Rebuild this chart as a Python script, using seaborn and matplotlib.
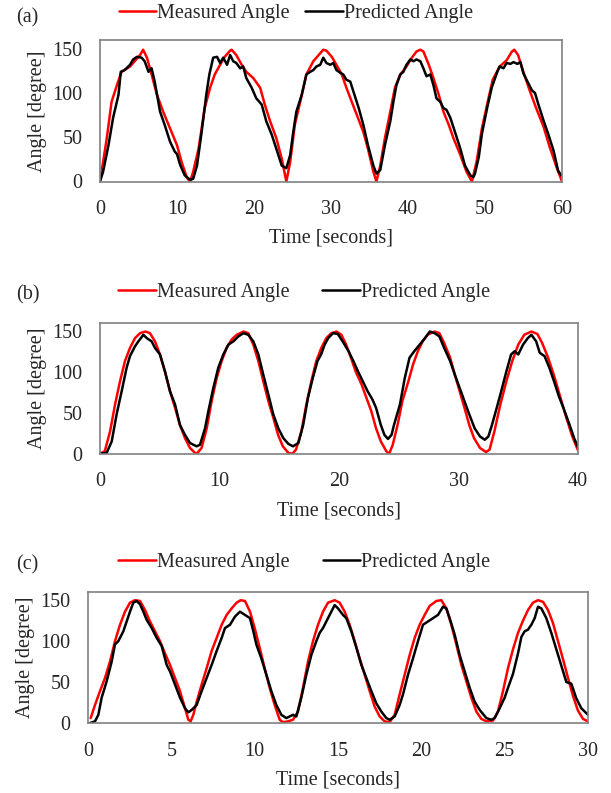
import matplotlib
matplotlib.use("Agg")
import matplotlib.pyplot as plt
import seaborn as sns

sns.set_style("white")
plt.rcParams['font.family'] = ['Liberation Serif', 'DejaVu Serif']
plt.rcParams['font.size'] = 14.5

# === (a) 60 s trial ===
a_meas_t = [0, 0.4, 0.9, 1.5, 2.2, 2.8, 3.9, 4.5, 5.2, 5.6, 6.1, 6.7, 7.4, 8.2, 9.1, 10.0, 10.6, 11.3, 11.7,
            12.1, 12.8, 13.2, 13.6, 14.3, 14.9, 15.6, 16.2, 16.9, 17.1, 17.7, 18.4, 19.0, 19.9, 20.8, 21.4, 22.1,
            22.9, 23.6, 24.2, 24.7, 25.3, 26.0, 26.8, 27.7, 28.4, 29.0, 29.4, 30.1, 30.7, 31.4, 32.0, 32.7, 33.5,
            34.2, 34.8, 35.5, 35.9, 36.4, 37.0, 37.7, 38.3, 39.0, 39.8, 40.5, 41.1, 41.6, 42.0, 42.7, 43.3, 44.0,
            44.6, 45.3, 45.9, 46.8, 47.6, 48.3, 48.9, 49.6, 50.4, 51.0, 51.9, 52.8, 53.5, 53.8, 54.3, 54.9, 55.8,
            56.6, 57.6, 58.4, 59.3, 60.0]
a_meas = [0, 22, 50, 90, 109, 124, 130, 136, 143, 149, 140, 121, 98, 79, 60, 41, 22, 4, 0,
          11, 37, 60, 83, 106, 121, 132, 141, 148, 149, 143, 132, 124, 117, 106, 87, 68,
          49, 26, 0, 22, 64, 90, 121, 136, 143, 149, 148, 141, 132, 121, 106, 90, 72,
          56, 37, 11, 0, 18, 49, 79, 106, 121, 130, 140, 147, 149, 147, 132, 117, 98,
          79, 64, 49, 30, 11, 0, 22, 60, 92, 115, 130, 137, 147, 149, 143, 126, 103,
          84, 62, 39, 16, 0]
a_pred_t = [0, 0.4, 1.1, 1.7, 2.4, 2.7, 3.2, 3.9, 4.3, 4.8, 5.4, 5.8, 6.3, 6.7, 7.1, 7.8, 8.4, 9.1, 9.7, 10.0,
            10.4, 11.0, 11.7, 12.1, 12.6, 13.2, 13.8, 14.2, 14.7, 15.2, 15.6, 16.0, 16.5, 16.9, 17.3, 17.7, 18.2,
            18.6, 19.0, 19.7, 20.3, 21.0, 21.6, 22.3, 22.9, 23.6, 24.2, 24.7, 25.1, 25.5, 26.2, 26.8, 27.3, 27.7,
            28.1, 28.6, 29.0, 29.4, 29.9, 30.3, 30.7, 31.2, 31.6, 32.0, 32.5, 32.9, 33.6, 34.2, 34.8, 35.5, 35.9,
            36.4, 37.0, 37.7, 38.1, 38.5, 39.0, 39.4, 39.8, 40.3, 40.7, 41.1, 41.6, 42.0, 42.4, 42.9, 43.3, 43.7,
            44.2, 44.6, 45.0, 45.5, 46.1, 46.8, 47.4, 48.1, 48.5, 48.7, 49.2, 49.6, 50.3, 50.9, 51.6, 51.9, 52.4,
            52.8, 53.3, 53.7, 54.2, 54.6, 55.0, 55.4, 56.1, 56.5, 56.9, 57.6, 58.2, 58.9, 59.5, 60.0]
a_pred = [0, 11, 41, 72, 98, 124, 126, 132, 138, 141, 140, 136, 124, 128, 113, 79, 64, 45, 34, 31,
          19, 7, 2, 3, 18, 56, 98, 121, 140, 141, 134, 140, 132, 143, 136, 134, 128,
          130, 117, 106, 94, 87, 68, 53, 37, 18, 15, 30, 56, 79, 98, 121, 124, 126,
          130, 132, 140, 134, 132, 134, 126, 123, 121, 115, 113, 102, 83, 64, 41, 18, 9,
          13, 41, 68, 90, 109, 121, 124, 132, 138, 136, 138, 136, 128, 119, 121, 109, 94,
          90, 83, 81, 72, 56, 37, 18, 7, 5, 9, 28, 54, 84, 107, 124, 130, 128,
          134, 133, 135, 133, 135, 122, 115, 103, 100, 88, 69, 54, 35, 12, 6]

# === (b) 40 s trial ===
b_meas_t = [0, 0.4, 0.84, 1.26, 1.67, 2.09, 2.51, 2.93, 3.35, 3.8, 4.18, 4.6, 5.02, 5.44, 5.86, 6.28, 6.69,
            7.11, 7.53, 7.95, 8.1, 8.5, 8.93, 9.34, 9.76, 10.18, 10.6, 11.0, 11.44, 12.0, 12.41, 12.83, 13.25,
            13.67, 14.09, 14.5, 14.9, 15.3, 15.76, 16.1, 16.4, 16.85, 17.27, 17.68, 18.1, 18.52, 18.94, 19.36,
            19.8, 20.2, 20.6, 21.0, 21.4, 21.9, 22.3, 22.7, 23.1, 23.5, 23.96, 24.2, 24.5, 24.9, 25.3, 25.8,
            26.2, 26.6, 27.0, 27.4, 28.0, 28.4, 28.8, 29.3, 29.7, 30.1, 30.5, 30.9, 31.3, 31.8, 32.3, 32.6,
            33.0, 33.5, 34.0, 34.5, 35.0, 35.5, 36.1, 36.6, 37.0, 37.5, 38.0, 38.5, 39.0, 39.5, 40.0]
b_meas = [0, 3, 27, 60, 88, 113, 129, 141, 147, 149, 147, 137, 121, 100, 76, 56, 35,
          19, 7, 1, 0, 7, 31, 64, 92, 113, 129, 139, 145, 149, 147, 133, 113,
          88, 64, 44, 23, 9, 1, 0, 5, 27, 60, 88, 113, 129, 141, 147,
          149, 145, 133, 117, 100, 84, 68, 52, 31, 15, 3, 0, 11, 35, 64, 88,
          109, 125, 137, 145, 149, 147, 135, 117, 96, 76, 56, 35, 19, 7, 2, 5,
          27, 60, 88, 113, 133, 145, 149, 146, 135, 117, 95, 70, 45, 22, 4]
b_pred_t = [0, 0.56, 0.98, 1.39, 1.81, 2.23, 2.51, 2.65, 2.93, 3.21, 3.63, 3.91, 4.32, 4.6, 5.02, 5.44, 5.86,
            6.28, 6.69, 7.11, 7.53, 8.09, 8.37, 8.79, 9.07, 9.48, 9.9, 10.32, 10.74, 11.16, 11.58, 12.0, 12.41,
            12.83, 13.25, 13.67, 14.09, 14.5, 14.92, 15.34, 15.76, 16.15, 16.6, 17.0, 17.4, 17.8, 18.2, 18.5,
            18.8, 19.1, 19.5, 19.9, 20.3, 20.8, 21.2, 21.6, 22.0, 22.4, 22.8, 23.1, 23.5, 23.8, 24.1, 24.4,
            24.6, 25.1, 25.5, 25.9, 26.3, 26.75, 27.2, 27.6, 28.0, 28.4, 28.8, 29.3, 29.7, 30.1, 30.5, 30.9,
            31.35, 31.8, 32.2, 32.5, 32.8, 33.2, 33.5, 34.0, 34.4, 34.7, 35.0, 35.4, 35.8, 36.1, 36.5, 36.8,
            37.2, 37.6, 38.0, 38.4, 38.8, 39.3, 39.7, 40.0]
b_pred = [0, 1, 15, 48, 76, 105, 119, 123, 131, 137, 145, 141, 137, 129, 121, 100, 76,
          60, 35, 23, 13, 9, 11, 31, 52, 80, 105, 121, 133, 137, 143, 147, 145,
          137, 121, 96, 72, 48, 31, 19, 12, 9, 13, 35, 68, 92, 113, 121,
          133, 141, 147, 146, 137, 125, 113, 100, 88, 76, 66, 56, 35, 23, 18, 23,
          35, 60, 92, 117, 125, 133, 141, 149, 147, 143, 129, 113, 96, 80, 64, 48,
          31, 21, 17, 21, 35, 56, 72, 100, 121, 125, 121, 133, 141, 145, 137, 123,
          119, 105, 88, 70, 55, 35, 18, 8]

# === (c) 30 s trial ===
c_meas_t = [0.16, 0.42, 0.72, 1.02, 1.32, 1.62, 1.92, 2.22, 2.52, 2.82, 3.12, 3.42, 3.72, 4.02, 4.32, 4.62,
            4.92, 5.22, 5.52, 5.82, 6.02, 6.16, 6.32, 6.52, 6.82, 7.12, 7.42, 7.72, 8.02, 8.32, 8.62, 8.92,
            9.16, 9.42, 9.72, 10.0, 10.3, 10.6, 10.9, 11.2, 11.5, 11.7, 12.0, 12.3, 12.6, 12.9, 13.2, 13.5,
            13.8, 14.1, 14.4, 14.8, 15.1, 15.4, 15.7, 16.0, 16.3, 16.6, 16.9, 17.2, 17.5, 17.8, 18.1, 18.4,
            18.7, 19.0, 19.3, 19.6, 19.9, 20.2, 20.5, 20.9, 21.2, 21.5, 21.8, 22.1, 22.4, 22.7, 23.0, 23.3,
            23.6, 23.9, 24.3, 24.6, 24.9, 25.2, 25.5, 25.8, 26.1, 26.4, 26.7, 27.0, 27.3, 27.6, 27.9, 28.2,
            28.5, 28.8, 29.1, 29.4, 29.7, 30.0]
c_meas = [6, 22, 39, 55, 75, 100, 120, 136, 147, 150, 149, 138, 124, 112, 100, 85,
          71, 55, 39, 18, 4, 2, 10, 26, 47, 67, 88, 104, 120, 132, 140, 147,
          150, 149, 136, 116, 92, 67, 43, 22, 4, 1, 2, 4, 14, 43, 75, 100,
          120, 136, 147, 150, 147, 136, 120, 100, 79, 59, 39, 20, 8, 2, 1, 10,
          35, 59, 83, 104, 120, 132, 143, 149, 150, 140, 120, 96, 71, 51, 31, 14,
          5, 2, 3, 14, 39, 67, 90, 110, 125, 138, 147, 150, 148, 138, 122, 100,
          78, 55, 33, 15, 5, 2]
c_pred_t = [0.12, 0.42, 0.62, 0.82, 1.12, 1.42, 1.62, 1.82, 2.12, 2.32, 2.52, 2.72, 2.92, 3.12, 3.32, 3.52,
            3.82, 4.12, 4.42, 4.72, 4.92, 5.22, 5.52, 5.82, 6.02, 6.22, 6.52, 6.82, 7.12, 7.42, 7.72, 8.02,
            8.22, 8.52, 8.82, 9.12, 9.42, 9.72, 9.92, 10.1, 10.4, 10.7, 11.0, 11.3, 11.6, 11.9, 12.1, 12.3,
            12.5, 12.8, 13.1, 13.4, 13.7, 13.9, 14.1, 14.4, 14.6, 14.8, 15.0, 15.3, 15.5, 15.8, 16.1, 16.4,
            16.7, 17.0, 17.3, 17.6, 17.9, 18.1, 18.4, 18.7, 18.9, 19.2, 19.5, 19.8, 20.1, 20.4, 20.7, 21.0,
            21.3, 21.5, 21.7, 22.0, 22.3, 22.6, 22.9, 23.2, 23.5, 23.9, 24.2, 24.4, 24.7, 25.0, 25.2, 25.5,
            25.8, 26.0, 26.2, 26.4, 26.6, 26.8, 27.0, 27.2, 27.5, 27.8, 28.1, 28.4, 28.7, 28.85, 29.0, 29.3,
            29.6, 30.0]
c_pred = [0, 2, 10, 31, 51, 75, 96, 100, 112, 124, 136, 147, 149, 145, 136, 126,
          116, 104, 94, 71, 63, 47, 31, 18, 13, 16, 22, 39, 55, 71, 88, 104,
          116, 120, 130, 136, 132, 128, 112, 96, 79, 59, 39, 22, 10, 6, 8, 10,
          8, 31, 59, 83, 100, 110, 116, 128, 136, 144, 140, 132, 128, 112, 92, 71,
          55, 39, 24, 14, 6, 4, 8, 22, 35, 59, 79, 100, 120, 124, 128, 132,
          142, 140, 128, 108, 83, 63, 43, 26, 16, 6, 4, 6, 18, 31, 43, 60,
          85, 105, 112, 114, 120, 128, 142, 140, 128, 110, 90, 70, 50, 49, 48, 30,
          18, 10]

a_xticks = [0, 10, 20, 30, 40, 50, 60]
b_xticks = [0, 10, 20, 30, 40]
c_xticks = [0, 5, 10, 15, 20, 25, 30]
y_ticks = [0, 50, 100, 150]

W, H = 611, 793
# label, data, xmax, xticks, box (left, top, right, bottom px), legend anchor px, label y, column spacing
panels = [
    ("(a)", a_meas_t, a_meas, a_pred_t, a_pred, 60, a_xticks, (100, 40, 562, 181.5), (118.7, 13.3), 17.7, 0.76),
    ("(b)", b_meas_t, b_meas, b_pred_t, b_pred, 40, b_xticks, (100, 322.5, 578, 453.7), (118, 292.7), 295, 1.64),
    ("(c)", c_meas_t, c_meas, c_pred_t, c_pred, 30, c_xticks, (88, 592, 588, 723), (118.3, 562.7), 565, 1.64),
]

fig = plt.figure(figsize=(W / 100, H / 100), dpi=100)

for lab, mt, m, pt, p, xmax, xt, box, leg, laby, cs in panels:
    l, t, r, b = box
    ax = fig.add_axes([l / W, 1 - b / H, (r - l) / W, (b - t) / H])
    sns.lineplot(x=mt, y=m, ax=ax, color="#ff0000", lw=1.8, label="Measured Angle",
                 estimator=None, sort=False)
    sns.lineplot(x=pt, y=p, ax=ax, color="black", lw=1.8, label="Predicted Angle",
                 estimator=None, sort=False)
    ax.set_xlim(0, xmax)
    ax.set_ylim(0, 160)
    ax.set_xticks(xt)
    ax.set_yticks(y_ticks)
    ax.tick_params(axis="x", length=0, pad=13.5, labelsize=14.5)
    ax.tick_params(axis="y", length=0, pad=12.5, labelsize=14.5)
    for s in ax.spines.values():
        s.set_color("#808080")
        s.set_linewidth(1.2)
    ax.set_xlabel("Time [seconds]", labelpad=7)
    ax.set_ylabel("Angle [degree]", labelpad=4)
    ax.legend(loc="center left", bbox_to_anchor=(leg[0] / W, 1 - leg[1] / H),
              bbox_transform=fig.transFigure, ncol=2, frameon=False,
              handlelength=1.87, handletextpad=0.05, columnspacing=cs,
              borderaxespad=0, borderpad=0, fontsize=14.5)
    fig.text(16.4 / W, 1 - laby / H, lab, va="center", ha="left", fontsize=14.5)

fig.savefig("out.png", dpi=100)
